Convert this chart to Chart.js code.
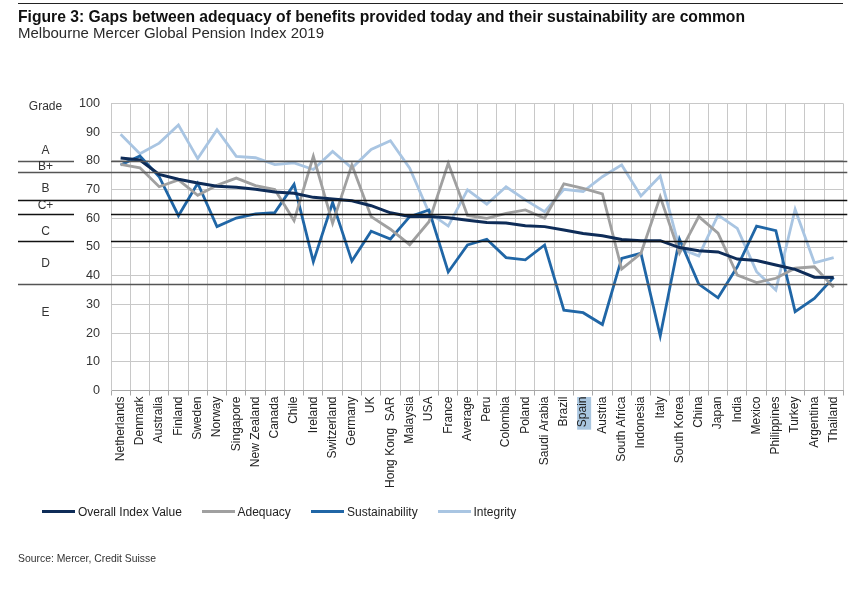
<!DOCTYPE html>
<html>
<head>
<meta charset="utf-8">
<script src="https://cdn.jsdelivr.net/npm/chart.js@4/dist/chart.umd.min.js"></script>
<style>
  html, body { margin: 0; padding: 0; background: #fff; }
  body { width: 865px; height: 590px; position: relative; overflow: hidden; font-family: "Liberation Sans", Arial, sans-serif; color: #1a1a1a; }
  #rule { position: absolute; left: 18px; top: 3px; width: 825px; height: 0; border-top: 1.5px solid #222; }
  #title { position: absolute; left: 18px; top: 8.7px; font-size: 15.7px; line-height: 1; font-weight: bold; white-space: nowrap; color: #111; }
  #subtitle { position: absolute; left: 18px; top: 24.8px; font-size: 15px; line-height: 1; white-space: nowrap; color: #2a2a2a; }
  #source { position: absolute; left: 18px; top: 554.2px; font-size: 10.4px; line-height: 1; white-space: nowrap; color: #333; }
  #chartWrap { position: absolute; left: 0; top: 0; width: 865px; height: 590px; }
  .lg { position: absolute; top: 505.8px; font-size: 12px; line-height: 1; white-space: nowrap; color: #222; }
  .lg span.sw { display: inline-block; width: 33px; height: 0; border-top: 3px solid #000; vertical-align: top; margin-top: 4.4px; margin-right: 3px; }
</style>
</head>
<body>
<div id="chartWrap"><canvas id="c" width="865" height="590"></canvas></div>
<div id="rule"></div>
<div id="title">Figure 3: Gaps between adequacy of benefits provided today and their sustainability are common</div>
<div id="subtitle">Melbourne Mercer Global Pension Index 2019</div>
<div id="legend"></div>
<div id="source">Source: Mercer, Credit Suisse</div>
<script>
const categories = ["Netherlands","Denmark","Australia","Finland","Sweden","Norway","Singapore","New Zealand","Canada","Chile","Ireland","Switzerland","Germany","UK","Hong Kong  SAR","Malaysia","USA","France","Average","Peru","Colombia","Poland","Saudi Arabia","Brazil","Spain","Austria","South Africa","Indonesia","Italy","South Korea","China","Japan","India","Mexico","Philippines","Turkey","Argentina","Thailand"];

const overall = [81.0, 80.3, 75.3, 73.6, 72.3, 71.2, 70.8, 70.1, 69.2, 68.7, 67.3, 66.7, 66.1, 64.4, 61.9, 60.6, 60.6, 60.2, 59.3, 58.5, 58.4, 57.4, 57.1, 55.9, 54.7, 53.9, 52.6, 52.2, 52.2, 49.8, 48.7, 48.3, 45.8, 45.3, 43.7, 42.2, 39.5, 39.4];

const adequacy = [78.8, 77.6, 71.0, 73.4, 68.0, 71.5, 74.0, 71.4, 70.0, 59.2, 81.6, 58.3, 78.6, 60.6, 56.2, 50.8, 58.8, 79.2, 61.0, 60.0, 61.7, 62.9, 60.0, 72.0, 70.4, 68.5, 42.3, 47.8, 67.5, 47.8, 60.6, 54.8, 40.2, 37.6, 39.1, 42.6, 43.1, 36.0];

const sustainability = [78.6, 81.7, 74.5, 60.9, 72.2, 57.1, 60.1, 61.5, 62.0, 71.8, 44.9, 65.5, 45.1, 55.5, 52.8, 60.6, 62.9, 41.3, 50.7, 52.7, 46.3, 45.5, 50.7, 28.0, 27.1, 23.0, 46.0, 47.8, 19.0, 52.7, 37.1, 32.3, 43.1, 57.3, 55.7, 27.5, 32.1, 39.4];

const integrity = [89.3, 82.5, 86.2, 92.5, 80.8, 90.9, 81.6, 81.1, 78.7, 79.3, 77.0, 83.3, 77.5, 84.0, 87.0, 77.5, 62.0, 57.3, 69.9, 64.9, 71.0, 66.4, 62.3, 70.1, 69.3, 74.5, 78.6, 67.8, 74.7, 49.5, 46.9, 61.1, 56.5, 41.4, 35.0, 63.1, 44.5, 46.3];

const seriesNames = ["Overall Index Value", "Adequacy", "Sustainability", "Integrity"];
const seriesColors = ["#0e2c58", "#a0a0a0", "#2066a6", "#a9c5e2"];

// Grade band boundaries (as drawn) and grade labels, in index points
const gradeBoundaries = [80, 76, 66.5, 61.5, 52, 37];
const gradeNames = ["A", "B+", "B", "C+", "C", "D", "E"];
const gradeLabelAt = [83.6, 78.0, 70.2, 64.3, 55.3, 44.3, 27.1];
const gradeHeader = "Grade";
const gradeHeaderAt = 98.9;
const highlightedCategory = "Spain";

const yTickStep = 10;

// ---- styling ----
const FONT = '"Liberation Sans", Arial, sans-serif';
const LABEL_FONT_SIZE = 12;
const boundaryStyle = [
  {color: "#555", broken: true},
  {color: "#555", broken: false},
  {color: "#111", broken: false},
  {color: "#111", broken: true},
  {color: "#111", broken: true},
  {color: "#555", broken: false}
];

const highlightPlugin = {
  id: "labelHighlight",
  beforeDraw(chart) {
    const {ctx, scales: {x}} = chart;
    const i = categories.indexOf(highlightedCategory);
    if (i < 0) return;
    ctx.save();
    ctx.font = LABEL_FONT_SIZE + "px " + FONT;
    const w = ctx.measureText(highlightedCategory).width;
    const cx = x.getPixelForTick(i);
    const top = x.top + 6.5;
    ctx.fillStyle = "#a9c6e0";
    ctx.fillRect(cx - 6, top, 14, w + 2);
    ctx.restore();
  }
};

const gradePlugin = {
  id: "grades",
  afterDatasetsDraw(chart) {
    const {ctx, chartArea, scales: {y}} = chart;
    ctx.save();
    ctx.lineWidth = 1.4;
    gradeBoundaries.forEach((v, i) => {
      const py = Math.round(y.getPixelForValue(v)) + 0.5;
      ctx.strokeStyle = boundaryStyle[i].color;
      ctx.beginPath();
      ctx.moveTo(18, py);
      if (boundaryStyle[i].broken) {
        ctx.lineTo(74, py);
        ctx.moveTo(chartArea.left, py);
      }
      ctx.lineTo(chartArea.right + 4, py);
      ctx.stroke();
    });
    ctx.fillStyle = "#333";
    ctx.font = "12px " + FONT;
    ctx.textAlign = "center";
    ctx.textBaseline = "middle";
    gradeNames.forEach((n, i) => ctx.fillText(n, 45.5, y.getPixelForValue(gradeLabelAt[i])));
    ctx.fillText(gradeHeader, 45.5, y.getPixelForValue(gradeHeaderAt));
    ctx.restore();
  }
};

const datasets = [overall, adequacy, sustainability, integrity].map((d, i) => ({
  label: seriesNames[i],
  data: d,
  borderColor: seriesColors[i],
  backgroundColor: seriesColors[i],
  borderWidth: i === 0 ? 3 : 2.8,
  pointRadius: 0,
  pointHoverRadius: 0,
  tension: 0,
  fill: false
}));

new Chart(document.getElementById("c"), {
  type: "line",
  data: { labels: categories, datasets },
  options: {
    responsive: false,
    animation: false,
    layout: { padding: { left: 0, top: 103.5, right: 21.7, bottom: 99.5 } },
    plugins: { legend: { display: false }, tooltip: { enabled: false }, title: { display: false } },
    scales: {
      x: {
        type: "category",
        offset: true,
        grid: { offset: true, color: "#c8c8c8", lineWidth: 1, drawTicks: true, tickLength: 5, tickColor: "#a8a8a8" },
        border: { color: "#a8a8a8" },
        ticks: {
          autoSkip: false, minRotation: 90, maxRotation: 90, padding: 1,
          color: "#222", font: { size: LABEL_FONT_SIZE, family: FONT }
        },
        afterFit: (s) => { s.height = 100; }
      },
      y: {
        min: 0, max: 100,
        grid: { color: "#c8c8c8", lineWidth: 1, drawTicks: false },
        border: { color: "#c8c8c8" },
        ticks: { stepSize: yTickStep, padding: 11, color: "#333", font: { size: 12.6, family: FONT } },
        afterFit: (s) => { s.width = 111; }
      }
    }
  },
  plugins: [highlightPlugin, gradePlugin]
});

// HTML legend built from the series arrays
const legendLefts = [42, 201.5, 311, 437.5];
const lg = document.getElementById("legend");
seriesNames.forEach((n, i) => {
  const d = document.createElement("div");
  d.className = "lg";
  d.style.left = legendLefts[i] + "px";
  const sw = document.createElement("span");
  sw.className = "sw";
  sw.style.borderTopColor = seriesColors[i];
  d.appendChild(sw);
  d.appendChild(document.createTextNode(n));
  lg.appendChild(d);
});
</script>
</body>
</html>
